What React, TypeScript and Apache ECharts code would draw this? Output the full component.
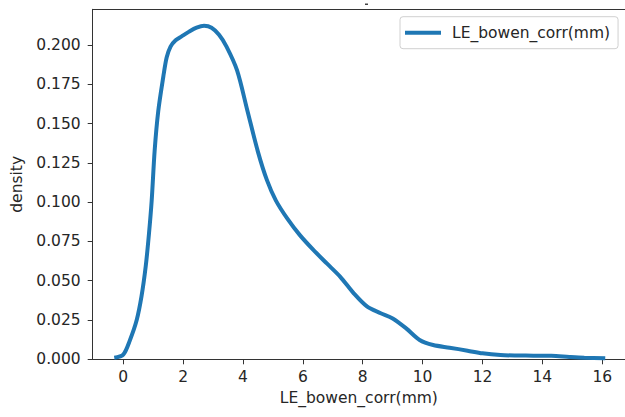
import React, { useEffect, useRef } from "react";
import * as echarts from "echarts";

const xValues = [-0.30, 0, 0.22, 0.45, 0.61, 0.75, 0.86, 0.95, 1.05, 1.17, 1.34, 1.45, 1.58, 1.75, 1.95, 2.2, 2.45, 2.7, 2.95, 3.2, 3.45, 3.8, 4.15, 4.5, 4.8, 5.1, 5.5, 5.9, 6.35, 6.8, 7.25, 7.7, 8.15, 8.6, 9.0, 9.45, 9.9, 10.35, 10.9, 11.5, 12.0, 12.6, 13.2, 13.7, 14.3, 14.9, 15.4, 16.1];
const densityValues = [0.001, 0.003, 0.012, 0.025, 0.040, 0.059, 0.080, 0.101, 0.133, 0.158, 0.180, 0.192, 0.199, 0.203, 0.2055, 0.2085, 0.211, 0.2122, 0.211, 0.2065, 0.199, 0.184, 0.158, 0.132, 0.114, 0.101, 0.089, 0.079, 0.0696, 0.061, 0.0525, 0.042, 0.0335, 0.0293, 0.026, 0.0197, 0.0123, 0.0091, 0.0074, 0.0055, 0.0038, 0.0027, 0.0024, 0.0023, 0.0022, 0.0015, 0.001, 0.0006];
const xTicks = [0, 2, 4, 6, 8, 10, 12, 14, 16];
const yTicks = [0, 0.025, 0.05, 0.075, 0.1, 0.125, 0.15, 0.175, 0.2];
const seriesName = "LE_bowen_corr(mm)";
const xLabel = "LE_bowen_corr(mm)";
const yLabel = "density";

const FONT = "DejaVu Sans";
const TXT = "#262626";
const AX = "#333333";

export default function App() {
  const ref = useRef<HTMLDivElement>(null);
  useEffect(() => {
    if (!ref.current) return;
    const chart = echarts.init(ref.current, undefined, { renderer: "svg" });
    const data = xValues.map((x, i) => [x, densityValues[i]]);
    chart.setOption({
      animation: false,
      backgroundColor: "#ffffff",
      textStyle: { fontFamily: FONT },
      grid: {
        left: 92.7,
        top: 9.3,
        right: 0,
        height: 350,
        show: false,
      },
      legend: {
        left: 400,
        top: 16.7,
        orient: "vertical",
        padding: [8, 8, 8, 5],
        borderColor: "#d0d0d0",
        borderWidth: 1,
        borderRadius: 3,
        backgroundColor: "#ffffff",
        itemWidth: 36,
        itemHeight: 4,
        icon: "rect",
        textStyle: { fontFamily: FONT, fontSize: 15.5, color: TXT, padding: [0, 0, 0, 6] },
        data: [{ name: seriesName, icon: "rect" }],
      },
      xAxis: [
        {
          type: "value",
          min: -1.02,
          max: 16.76,
          name: xLabel,
          nameLocation: "middle",
          nameGap: 31,
          nameTextStyle: { fontFamily: FONT, fontSize: 15.5, color: TXT },
          splitLine: { show: false },
          axisLine: { show: true, onZero: false, lineStyle: { color: AX, width: 1 } },
          axisTick: { show: true, length: 5, customValues: xTicks, lineStyle: { color: AX } },
          axisLabel: {
            customValues: xTicks,
            margin: 10,
            fontFamily: FONT,
            fontSize: 15.5,
            color: TXT,
          },
        },
        {
          type: "value",
          position: "top",
          min: -1.02,
          max: 16.76,
          splitLine: { show: false },
          axisLine: { show: true, onZero: false, lineStyle: { color: AX, width: 1 } },
          axisTick: { show: false },
          axisLabel: { show: false },
        },
      ],
      yAxis: {
        type: "value",
        min: 0,
        max: 0.2227,
        name: yLabel,
        nameLocation: "middle",
        nameGap: 65,
        nameTextStyle: { fontFamily: FONT, fontSize: 15.5, color: TXT },
        splitLine: { show: false },
        axisLine: { show: true, onZero: false, lineStyle: { color: AX, width: 1 } },
        axisTick: { show: true, length: 5, customValues: yTicks, lineStyle: { color: AX } },
        axisLabel: {
          customValues: yTicks,
          margin: 12,
          fontFamily: FONT,
          fontSize: 15.5,
          color: TXT,
          formatter: (v: number) => v.toFixed(3),
        },
      },
      graphic: [
        { type: "rect", shape: { x: 365, y: 3.5, width: 3, height: 1.5 }, style: { fill: "#444" } },
      ],
      series: [
        {
          type: "line",
          name: seriesName,
          xAxisIndex: 0,
          data,
          smooth: 0.3,
          showSymbol: false,
          symbol: "none",
          clip: true,
          lineStyle: { color: "#1f77b4", width: 4 },
          itemStyle: { color: "#1f77b4" },
        },
      ],
    });
    return () => chart.dispose();
  }, []);
  return (
    <div
      ref={ref}
      style={{ position: "absolute", left: 0, top: 0, width: 625, height: 417 }}
    />
  );
}
